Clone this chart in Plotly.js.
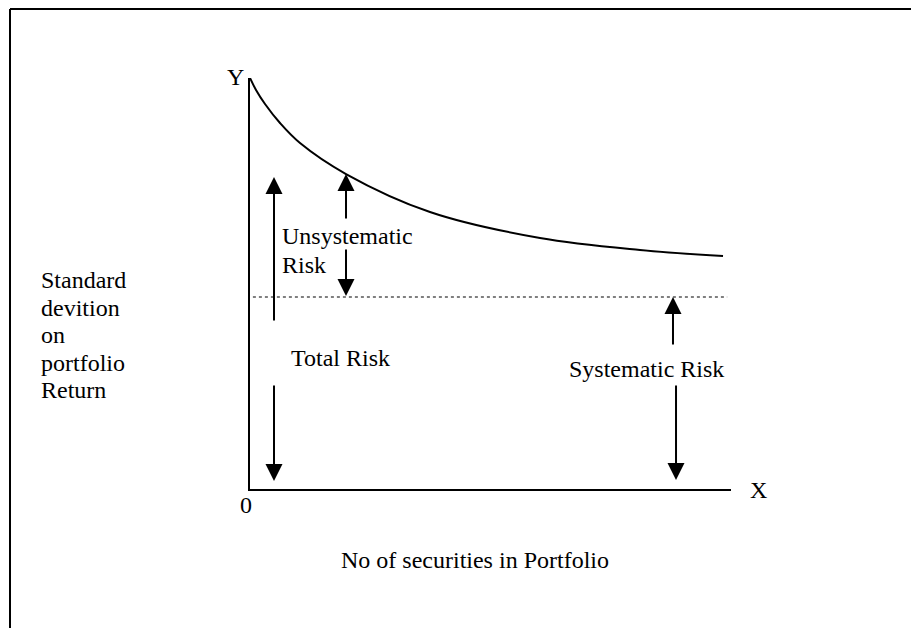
<!DOCTYPE html>
<html>
<head>
<meta charset="utf-8">
<script src="https://cdn.plot.ly/plotly-3.0.1.min.js"></script>
<style>html,body{margin:0;padding:0;background:#fff;}#chart{width:911px;height:628px;}</style>
</head>
<body>
<div id="chart"></div>
<script>
// Risk curve (portfolio standard deviation vs number of securities)
const curveX = [0, 0.125, 0.312, 0.624, 1.040, 1.996, 3.742, 6.029, 8.108, 9.834];
const curveY = [10, 9.708, 9.367, 8.905, 8.418, 7.664, 6.740, 6.107, 5.815, 5.669];
// Systematic risk level (dotted)
const sysX = [0.06, 9.92];
const sysY = [4.672, 4.672];
// Arrows: x position, tail y, head y
const arrowX    = [0.499, 0.499, 1.996, 1.996, 8.794, 8.857];
const arrowTail = [4.063, 2.555, 6.545, 5.864, 3.479, 2.555];
const arrowHead = [7.591, 0.195, 7.664, 4.696, 4.672, 0.219];
// Labels inside the plot
const labelText = ["Unsystematic", "Risk", "Total Risk", "Systematic Risk"];
const labelX    = [0.624, 0.624, 0.811, 6.580];
const labelY    = [6.168, 5.450, 3.187, 2.908];
// Y-axis description lines
const yDescLines = ["Standard", "devition", "on", "portfolio", "Return"];
const xTitle = "No of securities in Portfolio";

const FONT = {family: "'Liberation Serif', 'Times New Roman', serif", size: 24, color: "#000"};

const traces = [
  {x: curveX, y: curveY, mode: "lines", line: {color: "#000", width: 2, shape: "spline", smoothing: 1}, hoverinfo: "skip"},
  {x: sysX, y: sysY, mode: "lines", line: {color: "#000", width: 1.2, dash: "dot"}, hoverinfo: "skip"}
];

const annotations = [];
for (let i = 0; i < arrowX.length; i++) {
  annotations.push({
    x: arrowX[i], y: arrowHead[i], xref: "x", yref: "y",
    ax: arrowX[i], ay: arrowTail[i], axref: "x", ayref: "y",
    text: "", showarrow: true, arrowhead: 2, arrowsize: 1.7, arrowwidth: 2, arrowcolor: "#000", standoff: 0
  });
}
for (let i = 0; i < labelText.length; i++) {
  annotations.push({x: labelX[i], y: labelY[i], xref: "x", yref: "y", text: labelText[i],
    showarrow: false, xanchor: "left", yanchor: "middle", font: FONT});
}
// Paper coords: x = (px-250)/481, y = (489-py)/411
const descCapCenters = [280, 307.5, 335, 362.5, 390];
yDescLines.forEach((t, i) => {
  annotations.push({x: (39 - 250) / 481, y: (489 - descCapCenters[i]) / 411, xref: "paper", yref: "paper",
    text: t, showarrow: false, xanchor: "left", yanchor: "middle", font: FONT});
});
annotations.push({x: (235 - 250) / 481, y: (489 - 77) / 411, xref: "paper", yref: "paper", text: "Y", showarrow: false, xanchor: "center", yanchor: "middle", font: FONT});
annotations.push({x: (246 - 250) / 481, y: (489 - 505) / 411, xref: "paper", yref: "paper", text: "0", showarrow: false, xanchor: "center", yanchor: "middle", font: FONT});
annotations.push({x: (758 - 250) / 481, y: (489 - 490) / 411, xref: "paper", yref: "paper", text: "X", showarrow: false, xanchor: "center", yanchor: "middle", font: FONT});
annotations.push({x: (475 - 250) / 481, y: (489 - 560) / 411, xref: "paper", yref: "paper", text: xTitle, showarrow: false, xanchor: "center", yanchor: "middle", font: FONT});

const layout = {
  width: 911, height: 628,
  margin: {l: 250, r: 180, t: 78, b: 139, pad: 0},
  paper_bgcolor: "#fff", plot_bgcolor: "#fff",
  showlegend: false,
  xaxis: {range: [0, 10], showline: true, linecolor: "#000", linewidth: 2, showgrid: false, zeroline: false, ticks: "", showticklabels: false, fixedrange: true},
  yaxis: {range: [0, 10], showline: true, linecolor: "#000", linewidth: 2, showgrid: false, zeroline: false, ticks: "", showticklabels: false, fixedrange: true},
  annotations: annotations,
  shapes: [
    {type: "line", xref: "paper", yref: "paper", x0: (10 - 250) / 481, x1: (915 - 250) / 481, y0: (489 - 9) / 411, y1: (489 - 9) / 411, line: {color: "#000", width: 2}},
    {type: "line", xref: "paper", yref: "paper", x0: (10 - 250) / 481, x1: (10 - 250) / 481, y0: (489 - 9) / 411, y1: (489 - 635) / 411, line: {color: "#000", width: 2}}
  ]
};

Plotly.newPlot("chart", traces, layout, {displayModeBar: false, staticPlot: true});
</script>
</body>
</html>
